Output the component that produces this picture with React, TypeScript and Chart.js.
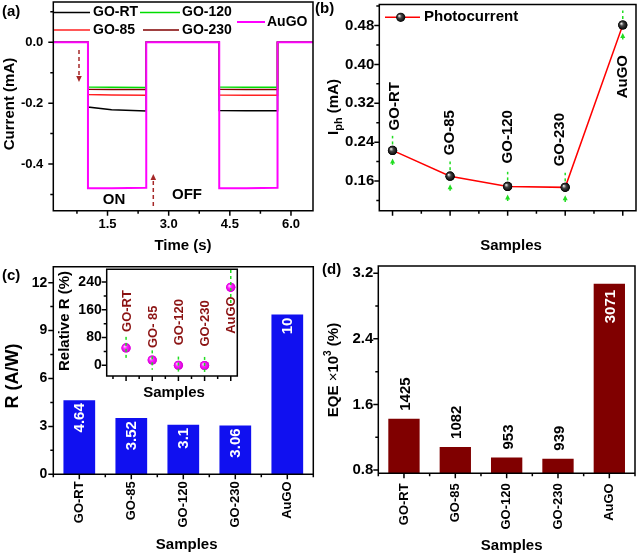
import React, { useEffect, useRef } from 'react';
import { Chart, registerables } from 'chart.js';
Chart.register(...registerables);

const FONT = '"Liberation Sans", Arial, Helvetica, sans-serif';

// ---------------- data: panel (a) ----------------
const timeA = [0.17, 1.02, 1.02, 1.6, 2.45, 2.45, 4.24, 4.24, 4.9, 5.67, 5.67, 6.54];
const currentGORT = [0, 0, -0.213, -0.222, -0.226, 0, 0, -0.224, -0.225, -0.225, 0, 0];
const currentGO85 = [0, 0, -0.172, -0.173, -0.174, 0, 0, -0.173, -0.174, -0.174, 0, 0];
const currentGO120 = [0, 0, -0.147, -0.148, -0.149, 0, 0, -0.147, -0.148, -0.148, 0, 0];
const currentGO230 = [0, 0, -0.154, -0.155, -0.155, 0, 0, -0.154, -0.155, -0.155, 0, 0];
const currentAuGO = [0, 0, -0.479, -0.479, -0.478, 0, 0, -0.479, -0.479, -0.478, 0, 0];
const timeTicks = [1.5, 3.0, 4.5, 6.0];
const timeMinor = [0.75, 2.25, 3.75, 5.25];
const currentTicks = [-0.4, -0.2, 0.0];
const currentMinor = [-0.5, -0.3, -0.1, 0.1];

// ---------------- data: panel (b) ----------------
const samples = ['GO-RT', 'GO-85', 'GO-120', 'GO-230', 'AuGO'];
const photocurrent = [0.223, 0.17, 0.149, 0.147, 0.481];
const photocurrentErr = [0.03, 0.03, 0.03, 0.03, 0.03];
const iphTicks = [0.16, 0.24, 0.32, 0.4, 0.48];
const iphMinor = [0.12, 0.2, 0.28, 0.36, 0.44, 0.52];

// ---------------- data: panel (c) ----------------
const responsivity = [4.64, 3.52, 3.1, 3.06, 10];
const responsivityLabels = ['4.64', '3.52', '3.1', '3.06', '10'];
const rTicks = [0, 3, 6, 9, 12];
const rMinor = [1.5, 4.5, 7.5, 10.5];
const insetLabels = ['GO-RT', 'GO- 85', 'GO-120', 'GO-230', 'AuGO'];
const relativeR = [50, 15, 0, -1, 225];
const relativeRErr = [32, 28, 25, 25, 50];
const relTicks = [0, 80, 160, 240];
const relMinor = [40, 120, 200];

// ---------------- data: panel (d) ----------------
const eqe = [1.425, 1.082, 0.953, 0.939, 3.071];
const eqeLabels = ['1425', '1082', '953', '939', '3071'];
const eqeTicks = [0.8, 1.6, 2.4, 3.2];
const eqeMinor = [1.2, 2.0, 2.8];

// ---------------- layout ----------------
type Box = { left: number; top: number; w: number; h: number };
type Area = { l: number; t: number; r: number; b: number };

const PANEL_A: Box = { left: 0, top: 0, w: 320, h: 262 };
const AREA_A: Area = { l: 53.3, t: 2, r: 313, b: 210.7 };
const PANEL_B: Box = { left: 312, top: 0, w: 329, h: 262 };
const AREA_B: Area = { l: 379.3, t: 2, r: 636, b: 210.7 };
const PANEL_C: Box = { left: 0, top: 262, w: 320, h: 294 };
const AREA_C: Area = { l: 53.3, t: 266.7, r: 313.3, b: 474.3 };
const PANEL_I: Box = { left: 44, top: 262, w: 206, h: 140 };
const AREA_I: Area = { l: 106.7, t: 269.3, r: 237.3, b: 376 };
const PANEL_D: Box = { left: 312, top: 262, w: 329, h: 294 };
const AREA_D: Area = { l: 378.3, t: 266, r: 635, b: 473.3 };

interface TextItem {
  text: string; x: number; y: number; rot?: boolean; size?: number;
  weight?: string; color?: string; align?: CanvasTextAlign;
}

function drawText(ctx: CanvasRenderingContext2D, t: TextItem, ox = 0, oy = 0) {
  ctx.save();
  ctx.translate(t.x - ox, t.y - oy);
  if (t.rot) ctx.rotate(-Math.PI / 2);
  ctx.font = `${t.weight ?? 'bold'} ${t.size ?? 15}px ${FONT}`;
  ctx.fillStyle = t.color ?? '#000';
  ctx.textAlign = t.align ?? 'center';
  ctx.textBaseline = 'middle';
  ctx.fillText(t.text, 0, 0);
  ctx.restore();
}

type Part = { text: string; size: number; dy: number; weight?: string };
function drawRich(ctx: CanvasRenderingContext2D, parts: Part[], x: number, y: number, rot: boolean) {
  ctx.save();
  ctx.translate(x, y);
  if (rot) ctx.rotate(-Math.PI / 2);
  ctx.textAlign = 'left';
  ctx.textBaseline = 'alphabetic';
  ctx.fillStyle = '#000';
  const widths = parts.map((p) => {
    ctx.font = `${p.weight ?? 'bold'} ${p.size}px ${FONT}`;
    return ctx.measureText(p.text).width;
  });
  const total = widths.reduce((a, b) => a + b, 0);
  let cx = -total / 2;
  parts.forEach((p, i) => {
    ctx.font = `${p.weight ?? 'bold'} ${p.size}px ${FONT}`;
    ctx.fillText(p.text, cx, 5.4 + p.dy);
    cx += widths[i];
  });
  ctx.restore();
}

function sphere(ctx: CanvasRenderingContext2D, x: number, y: number, r: number, c0: string, c1: string, c2: string) {
  const g = ctx.createRadialGradient(x - r * 0.35, y - r * 0.35, 0.2, x, y, r);
  g.addColorStop(0, c0);
  g.addColorStop(0.4, c1);
  g.addColorStop(1, c2);
  ctx.beginPath();
  ctx.arc(x, y, r, 0, Math.PI * 2);
  ctx.fillStyle = g;
  ctx.fill();
}

function dashedArrow(ctx: CanvasRenderingContext2D, x: number, y1: number, y2: number, color: string) {
  ctx.save();
  ctx.strokeStyle = color;
  ctx.fillStyle = color;
  ctx.lineWidth = 1.5;
  const dir = Math.sign(y2 - y1);
  ctx.setLineDash([4, 3]);
  ctx.beginPath();
  ctx.moveTo(x, y1);
  ctx.lineTo(x, y2 - dir * 5);
  ctx.stroke();
  ctx.setLineDash([]);
  ctx.beginPath();
  ctx.moveTo(x, y2);
  ctx.lineTo(x - 2.8, y2 - dir * 6);
  ctx.lineTo(x + 2.8, y2 - dir * 6);
  ctx.closePath();
  ctx.fill();
  ctx.restore();
}

function fixAxis(s: any, horiz: boolean, fix: number) {
  if (horiz) s.height = fix; else s.width = fix;
  s.paddingLeft = 0; s.paddingRight = 0; s.paddingTop = 0; s.paddingBottom = 0;
}

function linAxis(o: { min: number; max: number; ticks: number[]; dec: number; size: number; pad: number; fix: number; horiz: boolean; show?: boolean }) {
  return {
    type: 'linear', min: o.min, max: o.max,
    grid: { display: false, drawTicks: false }, border: { display: false },
    afterBuildTicks: (s: any) => { s.ticks = o.ticks.map((v) => ({ value: v })); },
    ticks: {
      display: o.show !== false, autoSkip: false, maxRotation: 0, minRotation: 0, padding: o.pad,
      color: '#000', font: { family: FONT, size: o.size, weight: 'bold' },
      callback: (v: any) => Number(v).toFixed(o.dec),
    },
    afterFit: (s: any) => fixAxis(s, o.horiz, o.fix),
  };
}

function catAxis(fix: number, pad: number) {
  return {
    type: 'category', offset: true,
    grid: { display: false, drawTicks: false, offset: true }, border: { display: false },
    ticks: {
      autoSkip: false, minRotation: 90, maxRotation: 90, padding: pad, color: '#000',
      font: { family: FONT, size: 13, weight: 'bold' },
    },
    afterFit: (s: any) => fixAxis(s, true, fix),
  };
}

function baseOptions(P: Box, A: Area, scales: any) {
  return {
    responsive: false, maintainAspectRatio: false, animation: false, events: [],
    layout: { padding: { left: 0, top: A.t - P.top, right: P.left + P.w - A.r, bottom: 0 } },
    plugins: { legend: { display: false }, tooltip: { enabled: false }, title: { display: false } },
    scales,
  };
}

function framePlugin(P: Box, cfg: { xMajor: number[]; xMinor: number[]; yMajor: number[]; yMinor: number[]; bg?: boolean }, texts: TextItem[], extra?: (chart: any) => void, before?: (chart: any) => void) {
  return {
    id: 'frameAndText',
    beforeDatasetsDraw(chart: any) {
      if (cfg.bg) {
        const { ctx, chartArea: a } = chart;
        ctx.save();
        ctx.fillStyle = '#fff';
        ctx.fillRect(a.left, a.top, a.right - a.left, a.bottom - a.top);
        ctx.restore();
      }
      if (before) before(chart);
    },
    afterDraw(chart: any) {
      const { ctx, chartArea: a, scales } = chart;
      ctx.save();
      ctx.strokeStyle = '#000';
      ctx.lineWidth = 1.5;
      ctx.beginPath();
      ctx.rect(a.left, a.top, a.right - a.left, a.bottom - a.top);
      const xs = scales.x, ys = scales.y;
      const xt = (vals: number[], len: number) => vals.forEach((v) => {
        const p = xs.getPixelForValue(v);
        ctx.moveTo(p, a.bottom); ctx.lineTo(p, a.bottom + len);
      });
      const yt = (vals: number[], len: number) => vals.forEach((v) => {
        const p = ys.getPixelForValue(v);
        ctx.moveTo(a.left - len, p); ctx.lineTo(a.left, p);
      });
      xt(cfg.xMajor, 5); xt(cfg.xMinor, 3); yt(cfg.yMajor, 5); yt(cfg.yMinor, 3);
      ctx.stroke();
      ctx.restore();
      texts.forEach((t) => drawText(ctx, t, P.left, P.top));
      if (extra) extra(chart);
    },
  };
}

// ---------------- panel (a) ----------------
function buildA() {
  const P = PANEL_A, A = AREA_A;
  const mk = (label: string, vals: number[], color: string, width: number) => ({
    label, data: timeA.map((t, i) => ({ x: t, y: vals[i] })),
    borderColor: color, borderWidth: width, pointRadius: 0, tension: 0, fill: false,
  });
  const legend = [
    { label: 'GO-RT', color: '#000000', x1: 54, x2: 90, y: 12.5, tx: 93 },
    { label: 'GO-120', color: '#00dd00', x1: 140, x2: 180, y: 12.5, tx: 182 },
    { label: 'GO-85', color: '#ff2020', x1: 54, x2: 90, y: 30, tx: 93 },
    { label: 'GO-230', color: '#800000', x1: 143, x2: 179, y: 30, tx: 182 },
    { label: 'AuGO', color: '#ff00ff', x1: 237, x2: 265, y: 22, tx: 267 },
  ];
  const texts: TextItem[] = [
    { text: '(a)', x: 2, y: 11.7, align: 'left' },
    { text: 'Current (mA)', x: 10, y: 104, rot: true },
    { text: 'Time (s)', x: 183, y: 245.5 },
    { text: 'ON', x: 114, y: 200 },
    { text: 'OFF', x: 187, y: 195 },
    ...legend.map((l) => ({ text: l.label, x: l.tx, y: l.y, align: 'left' as CanvasTextAlign, size: 14 })),
  ];
  const extra = (chart: any) => {
    const ctx = chart.ctx as CanvasRenderingContext2D;
    ctx.save();
    legend.forEach((l) => {
      ctx.strokeStyle = l.color;
      ctx.lineWidth = l.label === 'AuGO' ? 2 : 1.6;
      ctx.beginPath();
      ctx.moveTo(l.x1 - P.left, l.y - P.top);
      ctx.lineTo(l.x2 - P.left, l.y - P.top);
      ctx.stroke();
    });
    ctx.restore();
    dashedArrow(ctx, 79, 50, 82, '#a52828');
    dashedArrow(ctx, 153.3, 206, 174, '#a52828');
  };
  return {
    type: 'line',
    data: {
      datasets: [
        mk('AuGO', currentAuGO, '#ff00ff', 2),
        mk('GO-120', currentGO120, '#00dd00', 1.5),
        mk('GO-230', currentGO230, '#800000', 1.5),
        mk('GO-85', currentGO85, '#ff2020', 1.5),
        mk('GO-RT', currentGORT, '#000000', 1.5),
      ],
    },
    options: baseOptions(P, A, {
      x: linAxis({ min: 0.17, max: 6.54, ticks: timeTicks, dec: 1, size: 13, pad: 6, fix: P.top + P.h - A.b, horiz: true }),
      y: linAxis({ min: -0.553, max: 0.132, ticks: currentTicks, dec: 1, size: 13, pad: 10, fix: A.l - P.left, horiz: false }),
    }),
    plugins: [framePlugin(P, { xMajor: timeTicks, xMinor: timeMinor, yMajor: currentTicks, yMinor: currentMinor }, texts, extra)],
  };
}

// ---------------- panel (b) ----------------
function buildB() {
  const P = PANEL_B, A = AREA_B;
  const xPos = samples.map((_, i) => i + 1);
  const labelGap = [20, 21, 23, 21, -30];
  const labelDx = [2, 0, 0, -5, 0];
  const texts: TextItem[] = [
    { text: '(b)', x: 315, y: 8.5, align: 'left' },
    { text: 'Samples', x: 511, y: 246 },
    { text: 'Photocurrent', x: 424, y: 17.3, align: 'left' },
  ];
  const errorBars = (chart: any) => {
    const ctx = chart.ctx as CanvasRenderingContext2D;
    const xs = chart.scales.x, ys = chart.scales.y;
    ctx.save();
    ctx.strokeStyle = '#22dd22';
    ctx.fillStyle = '#22dd22';
    ctx.lineWidth = 1.5;
    photocurrent.forEach((v, i) => {
      const px = xs.getPixelForValue(xPos[i]);
      const py = ys.getPixelForValue(v);
      const up = ys.getPixelForValue(v + photocurrentErr[i]);
      const dn = ys.getPixelForValue(v - photocurrentErr[i]);
      ctx.setLineDash([3, 3]);
      ctx.beginPath();
      ctx.moveTo(px, py - 6); ctx.lineTo(px, up);
      ctx.stroke();
      ctx.setLineDash([]);
      ctx.beginPath();
      ctx.moveTo(px, py + 12); ctx.lineTo(px, dn);
      ctx.stroke();
      ctx.beginPath();
      ctx.moveTo(px, py + 8); ctx.lineTo(px - 2.5, py + 13); ctx.lineTo(px + 2.5, py + 13); ctx.closePath();
      ctx.fill();
    });
    ctx.restore();
  };
  const extra = (chart: any) => {
    const ctx = chart.ctx as CanvasRenderingContext2D;
    const xs = chart.scales.x, ys = chart.scales.y;
    const meta = chart.getDatasetMeta(0);
    meta.data.forEach((pt: any) => sphere(ctx, pt.x, pt.y, 4.6, '#f0f0f0', '#444', '#000'));
    photocurrent.forEach((v, i) => {
      const px = xs.getPixelForValue(xPos[i]) + labelDx[i];
      const py = ys.getPixelForValue(v);
      const g = labelGap[i];
      drawText(ctx, { text: samples[i], x: px, y: py - g, rot: true, align: g > 0 ? 'left' : 'right' });
    });
    drawRich(ctx, [
      { text: 'I', size: 15, dy: 0 },
      { text: 'ph', size: 11, dy: 4 },
      { text: ' (mA)', size: 15, dy: 0 },
    ], 333 - P.left, 107 - P.top, true);
    ctx.save();
    ctx.strokeStyle = '#ff0000';
    ctx.lineWidth = 1.6;
    ctx.beginPath();
    ctx.moveTo(385 - P.left, 17.3 - P.top); ctx.lineTo(420 - P.left, 17.3 - P.top);
    ctx.stroke();
    ctx.restore();
    sphere(ctx, 400.7 - P.left, 17.3 - P.top, 4.6, '#f0f0f0', '#444', '#000');
  };
  return {
    type: 'line',
    data: {
      datasets: [{
        label: 'Photocurrent', data: xPos.map((x, i) => ({ x, y: photocurrent[i] })),
        borderColor: '#ff0000', borderWidth: 1.5, tension: 0, fill: false,
        pointRadius: 4.6, pointBackgroundColor: '#000', pointBorderColor: '#000', pointBorderWidth: 0,
      }],
    },
    options: baseOptions(P, A, {
      x: linAxis({ min: 0.77, max: 5.23, ticks: xPos, dec: 0, size: 13, pad: 6, fix: P.top + P.h - A.b, horiz: true, show: false }),
      y: linAxis({ min: 0.099, max: 0.523, ticks: iphTicks, dec: 2, size: 15, pad: 5, fix: A.l - P.left, horiz: false }),
    }),
    plugins: [framePlugin(P, { xMajor: xPos, xMinor: [1.5, 2.5, 3.5, 4.5], yMajor: iphTicks, yMinor: iphMinor }, texts, extra, errorBars)],
  };
}

// ---------------- panel (c) ----------------
function buildC() {
  const P = PANEL_C, A = AREA_C;
  const texts: TextItem[] = [
    { text: '(c)', x: 2, y: 276, align: 'left' },
    { text: 'R (A/W)', x: 13.5, y: 376, rot: true, size: 18 },
    { text: 'Samples', x: 186.7, y: 545 },
  ];
  const extra = (chart: any) => {
    const ctx = chart.ctx as CanvasRenderingContext2D;
    const meta = chart.getDatasetMeta(0);
    meta.data.forEach((bar: any, i: number) => {
      drawText(ctx, { text: responsivityLabels[i], x: bar.x + 1, y: bar.y + 3, rot: true, align: 'right', color: '#fff' });
    });
  };
  return {
    type: 'bar',
    data: {
      labels: samples,
      datasets: [{ data: responsivity, backgroundColor: '#1010f0', borderWidth: 0, barPercentage: 0.61, categoryPercentage: 1 }],
    },
    options: baseOptions(P, A, {
      x: catAxis(P.top + P.h - A.b, 7),
      y: linAxis({ min: 0, max: 13, ticks: rTicks, dec: 0, size: 14, pad: 6, fix: A.l - P.left, horiz: false }),
    }),
    plugins: [framePlugin(P, { xMajor: [0, 1, 2, 3, 4], xMinor: [-0.5, 0.5, 1.5, 2.5, 3.5, 4.5], yMajor: rTicks, yMinor: rMinor }, texts, extra)],
  };
}

// ---------------- inset in (c) ----------------
function buildInset() {
  const P = PANEL_I, A = AREA_I;
  const xPos = insetLabels.map((_, i) => i + 1);
  const labelGap = [16, 12, 20, 19, -9];
  const texts: TextItem[] = [
    { text: 'Relative R (%)', x: 65, y: 321, rot: true },
    { text: 'Samples', x: 174, y: 393.3 },
  ];
  const extra = (chart: any) => {
    const ctx = chart.ctx as CanvasRenderingContext2D;
    const xs = chart.scales.x, ys = chart.scales.y;
    const meta = chart.getDatasetMeta(0);
    meta.data.forEach((pt: any) => sphere(ctx, pt.x, pt.y, 4.6, '#ffc8ff', '#ff22ff', '#d000d0'));
    ctx.save();
    ctx.strokeStyle = '#22dd22';
    ctx.lineWidth = 1.5;
    ctx.setLineDash([3, 3]);
    relativeR.forEach((v, i) => {
      const px = xs.getPixelForValue(xPos[i]);
      ctx.beginPath();
      ctx.moveTo(px, Math.max(ys.getPixelForValue(v + relativeRErr[i]), chart.chartArea.top));
      ctx.lineTo(px, ys.getPixelForValue(v - relativeRErr[i]));
      ctx.stroke();
    });
    ctx.restore();
    relativeR.forEach((v, i) => {
      const px = xs.getPixelForValue(xPos[i]) + 1;
      const py = ys.getPixelForValue(v);
      const g = labelGap[i];
      drawText(ctx, { text: insetLabels[i], x: px, y: py - g, rot: true, size: 13, color: '#8b1212', align: g > 0 ? 'left' : 'right' });
    });
  };
  return {
    type: 'line',
    data: {
      datasets: [{
        data: xPos.map((x, i) => ({ x, y: relativeR[i] })), showLine: false,
        pointRadius: 4.6, pointBackgroundColor: '#ff00ff', pointBorderWidth: 0,
      }],
    },
    options: baseOptions(P, A, {
      x: linAxis({ min: 0.26, max: 5.25, ticks: xPos, dec: 0, size: 13, pad: 6, fix: P.top + P.h - A.b, horiz: true, show: false }),
      y: linAxis({ min: -31, max: 277, ticks: relTicks, dec: 0, size: 14, pad: 5, fix: A.l - P.left, horiz: false }),
    }),
    plugins: [framePlugin(P, { xMajor: xPos, xMinor: [0.5, 1.5, 2.5, 3.5, 4.5], yMajor: relTicks, yMinor: relMinor, bg: true }, texts, extra)],
  };
}

// ---------------- panel (d) ----------------
function buildD() {
  const P = PANEL_D, A = AREA_D;
  const texts: TextItem[] = [
    { text: '(d)', x: 322, y: 270, align: 'left' },
    { text: 'Samples', x: 511.7, y: 545.5 },
  ];
  const extra = (chart: any) => {
    const ctx = chart.ctx as CanvasRenderingContext2D;
    const meta = chart.getDatasetMeta(0);
    meta.data.forEach((bar: any, i: number) => {
      const inside = i === eqe.length - 1;
      drawText(ctx, {
        text: eqeLabels[i], x: bar.x + 2, y: bar.y + (inside ? 6 : -8), rot: true,
        align: inside ? 'right' : 'left', color: inside ? '#fff' : '#000',
      });
    });
    drawRich(ctx, [
      { text: 'EQE ', size: 15, dy: 0 },
      { text: '×', size: 15, dy: 0, weight: 'normal' },
      { text: '10', size: 15, dy: 0 },
      { text: '3', size: 10, dy: -7 },
      { text: ' (%)', size: 15, dy: 0 },
    ], 333 - P.left, 370 - P.top, true);
  };
  return {
    type: 'bar',
    data: {
      labels: samples,
      datasets: [{ data: eqe, backgroundColor: '#800000', borderWidth: 0, barPercentage: 0.61, categoryPercentage: 1 }],
    },
    options: baseOptions(P, A, {
      x: catAxis(P.top + P.h - A.b, 10),
      y: linAxis({ min: 0.76, max: 3.289, ticks: eqeTicks, dec: 1, size: 15, pad: 5, fix: A.l - P.left, horiz: false }),
    }),
    plugins: [framePlugin(P, { xMajor: [0, 1, 2, 3, 4], xMinor: [-0.5, 0.5, 1.5, 2.5, 3.5, 4.5], yMajor: eqeTicks, yMinor: eqeMinor }, texts, extra)],
  };
}

function ChartCanvas({ box, build }: { box: Box; build: () => any }) {
  const ref = useRef<HTMLCanvasElement | null>(null);
  useEffect(() => {
    if (!ref.current) return;
    const chart = new Chart(ref.current, build());
    return () => chart.destroy();
  }, []);
  return (
    <canvas
      ref={ref}
      width={box.w}
      height={box.h}
      style={{ position: 'absolute', left: box.left, top: box.top, width: box.w, height: box.h }}
    />
  );
}

export default function App() {
  return (
    <div style={{ position: 'fixed', left: 0, top: 0, width: 641, height: 556, background: '#fff', overflow: 'hidden' }}>
      <ChartCanvas box={PANEL_A} build={buildA} />
      <ChartCanvas box={PANEL_B} build={buildB} />
      <ChartCanvas box={PANEL_C} build={buildC} />
      <ChartCanvas box={PANEL_D} build={buildD} />
      <ChartCanvas box={PANEL_I} build={buildInset} />
    </div>
  );
}
